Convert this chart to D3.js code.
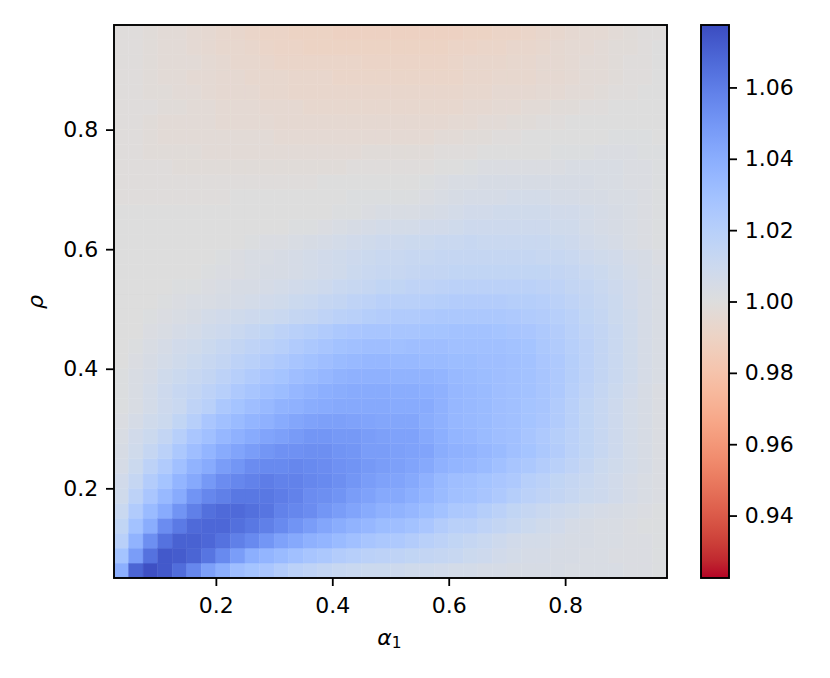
<!DOCTYPE html>
<meta charset="utf-8" />
<style>
    body { margin: 0; background: white; }
    text { font-family: "DejaVu Sans", sans-serif; fill: black; }
</style>
<script src="https://d3js.org/d3.v7.min.js"></script>
<div id="chart"></div>
<script>
    // bin centres, left to right and bottom to top
    const alphaBins = [0.0375, 0.0625, 0.0875, 0.1125, 0.1375, 0.1625, 0.1875, 0.2125, 0.2375, 0.2625, 0.2875, 0.3125, 0.3375, 0.3625, 0.3875, 0.4125, 0.4375, 0.4625, 0.4875, 0.5125, 0.5375, 0.5625, 0.5875, 0.6125, 0.6375, 0.6625, 0.6875, 0.7125, 0.7375, 0.7625, 0.7875, 0.8125, 0.8375, 0.8625, 0.8875, 0.9125, 0.9375, 0.9625];
    const rhoBins = [0.0625, 0.0875, 0.1125, 0.1375, 0.1625, 0.1875, 0.2125, 0.2375, 0.2625, 0.2875, 0.3125, 0.3375, 0.3625, 0.3875, 0.4125, 0.4375, 0.4625, 0.4875, 0.5125, 0.5375, 0.5625, 0.5875, 0.6125, 0.6375, 0.6625, 0.6875, 0.7125, 0.7375, 0.7625, 0.7875, 0.8125, 0.8375, 0.8625, 0.8875, 0.9125, 0.9375, 0.9625];

    // (value - 1) * 1000, one row per rho bin, lowest rho first
    const cellValues = [
        [39,69,76,73,66,56,46,39,31,28,26,22,18,16,14,12,11,10,10,9,8,8,7,6,6,5,5,4,4,4,4,3,3,3,3,2,2,1],
        [28,47,64,73,72,69,63,55,47,39,36,33,30,27,25,22,20,18,17,16,15,14,13,12,10,9,7,6,5,5,4,4,3,3,2,2,2,1],
        [19,37,53,64,70,70,68,64,59,55,50,45,42,38,36,33,30,27,25,24,22,19,17,15,13,11,9,7,6,6,5,4,4,3,3,2,2,1],
        [15,29,40,54,61,67,68,68,65,62,59,55,51,47,43,40,37,35,32,31,29,26,22,19,19,16,14,12,10,8,7,5,4,3,3,2,1,1],
        [11,23,33,41,51,59,65,67,67,65,63,58,56,54,50,47,44,41,38,37,35,32,29,25,24,21,18,15,13,11,9,8,6,5,4,3,2,1],
        [8,17,26,34,41,51,56,59,62,62,62,60,58,54,53,51,47,45,42,42,39,36,33,30,29,27,24,21,18,16,14,12,10,9,7,5,3,2],
        [7,13,22,28,36,42,49,54,56,58,60,58,58,56,55,53,50,47,45,44,42,38,34,31,30,28,26,24,20,18,15,13,11,9,7,5,3,2],
        [5,10,17,23,30,37,41,47,50,54,55,55,56,55,54,52,51,49,47,46,44,42,38,36,35,33,30,27,25,22,19,16,13,10,8,6,4,2],
        [4,8,13,18,25,31,36,41,44,47,50,52,52,53,53,51,50,47,47,46,45,44,40,38,37,35,33,30,28,25,22,18,15,12,9,6,4,2],
        [3,7,10,14,20,26,30,35,38,41,44,46,48,50,50,49,49,47,46,45,45,42,39,36,35,33,31,30,27,24,21,18,15,12,9,6,4,2],
        [2,5,8,10,15,20,26,30,33,36,38,41,43,45,46,46,45,44,43,43,43,40,38,35,34,33,31,30,28,26,23,19,15,12,9,6,4,2],
        [1,3,6,9,11,16,19,25,28,31,34,37,38,40,41,42,42,42,42,41,41,41,38,35,34,33,31,30,28,27,23,19,15,12,9,6,4,2],
        [1,3,6,9,12,14,17,20,24,27,30,32,35,37,39,40,41,41,41,40,40,39,38,35,34,33,31,30,29,27,24,20,16,13,10,7,4,2],
        [1,3,5,8,10,12,14,17,20,23,26,28,31,33,35,37,38,38,38,37,37,37,36,34,33,32,31,30,29,27,24,21,17,14,11,8,5,3],
        [0,2,4,6,8,10,12,14,17,19,22,24,27,29,31,33,34,35,35,34,34,33,33,32,32,31,31,30,29,26,24,21,17,14,11,8,5,3],
        [0,1,3,5,7,8,10,12,14,16,18,20,23,25,27,29,30,31,31,30,31,31,31,30,30,30,30,29,28,25,23,20,17,14,11,8,5,3],
        [0,0,2,3,5,6,8,9,11,13,15,17,19,21,23,25,26,27,27,27,27,28,28,29,29,29,28,27,26,24,22,19,16,14,11,8,5,3],
        [0,0,1,2,3,4,6,7,8,9,10,11,13,14,16,18,19,21,22,23,23,24,25,25,25,25,25,24,23,22,20,18,15,13,10,8,5,3],
        [0,0,0,1,2,3,3,4,5,6,7,8,10,11,13,14,16,17,19,19,19,20,21,22,22,22,22,21,21,20,18,16,14,12,10,7,5,3],
        [0,0,0,0,1,1,2,3,4,4,5,6,7,8,9,11,12,13,15,15,16,16,17,18,18,18,18,18,18,17,16,14,13,11,9,7,5,3],
        [0,0,0,0,0,0,1,2,2,3,4,4,5,6,7,8,10,11,12,12,13,14,14,15,15,15,15,15,15,15,14,13,11,10,8,6,4,3],
        [0,0,0,0,0,0,0,1,2,3,3,4,5,6,7,8,9,10,11,11,12,12,13,13,13,13,13,13,13,12,12,11,9,8,7,5,4,2],
        [0,0,0,0,0,0,0,0,0,1,2,2,3,4,5,6,7,8,9,9,10,10,11,11,12,11,11,11,11,11,10,9,7,6,5,3,2,1],
        [0,0,0,0,0,0,0,0,0,0,0,0,1,1,2,3,4,5,6,6,6,7,7,8,9,9,9,9,9,9,8,8,6,5,4,3,2,1],
        [0,0,0,0,0,0,0,0,0,0,0,0,0,0,0,1,1,2,3,3,3,4,5,6,7,7,8,8,8,8,7,7,6,5,4,3,2,1],
        [-1,-1,-1,-1,-1,-1,-1,-1,0,0,0,0,0,0,0,0,1,1,1,1,1,2,3,4,5,5,5,6,6,6,5,5,4,4,3,3,2,1],
        [-1,-1,-1,-1,-1,-1,-1,-1,-1,-1,-1,-1,-1,-1,0,0,0,0,0,0,0,1,2,3,3,4,4,4,4,4,4,4,4,3,3,2,2,1],
        [-1,-1,-1,-1,-2,-2,-2,-2,-2,-2,-2,-2,-2,-2,-2,-2,-1,-1,-1,-1,-1,-1,0,0,1,2,2,2,2,2,2,3,3,3,3,2,2,1],
        [-1,-1,-2,-2,-2,-2,-3,-3,-3,-3,-3,-3,-3,-3,-3,-3,-3,-2,-2,-2,-2,-2,-1,-1,-1,0,0,0,0,0,1,1,1,2,2,2,1,1],
        [-1,-1,-2,-3,-3,-3,-3,-3,-3,-3,-3,-4,-4,-4,-4,-4,-4,-4,-4,-4,-4,-4,-3,-3,-2,-2,-1,-1,0,0,0,0,0,0,1,1,1,0],
        [-1,-1,-2,-3,-3,-3,-3,-4,-4,-4,-4,-5,-5,-5,-5,-5,-5,-5,-5,-5,-5,-5,-5,-4,-4,-3,-3,-2,-2,-1,-1,0,0,0,0,0,0,0],
        [-1,-1,-1,-2,-2,-3,-3,-4,-4,-4,-5,-5,-5,-6,-6,-6,-6,-6,-6,-6,-6,-6,-6,-6,-5,-5,-4,-4,-3,-3,-2,-2,-1,-1,0,0,0,0],
        [-1,-1,-2,-2,-3,-3,-4,-5,-5,-5,-6,-6,-7,-7,-7,-7,-7,-7,-7,-7,-7,-7,-7,-7,-6,-6,-5,-5,-5,-4,-4,-3,-3,-2,-1,-1,0,0],
        [-1,-1,-2,-3,-3,-4,-4,-5,-5,-6,-6,-6,-7,-7,-7,-8,-8,-8,-8,-8,-8,-8,-8,-8,-7,-7,-6,-6,-6,-5,-5,-4,-3,-3,-2,-1,-1,0],
        [-1,-1,-2,-3,-3,-3,-4,-5,-6,-6,-7,-8,-8,-8,-8,-8,-8,-9,-9,-9,-9,-9,-9,-8,-7,-7,-7,-6,-6,-5,-5,-4,-3,-3,-2,-1,-1,0],
        [-1,-1,-2,-3,-3,-4,-5,-6,-6,-7,-8,-9,-9,-10,-10,-10,-10,-10,-10,-10,-10,-10,-10,-9,-9,-8,-8,-7,-7,-6,-5,-4,-4,-3,-2,-2,-1,0],
        [-1,-1,-2,-3,-3,-4,-5,-6,-7,-8,-9,-9,-10,-10,-10,-11,-11,-11,-11,-11,-11,-11,-11,-11,-10,-10,-9,-9,-8,-7,-6,-5,-4,-4,-3,-2,-1,-1]
    ];

    const alphaTicks = [0.2, 0.4, 0.6, 0.8];
    const rhoTicks = [0.2, 0.4, 0.6, 0.8];
    const colorbarTicks = [0.94, 0.96, 0.98, 1.00, 1.02, 1.04, 1.06];

    // coolwarm, listed from the high (blue) end of the reversed map down to the low (red) end
    const coolwarmReversed = ["#3b4cc0", "#445acc", "#4d68d7", "#5775e1", "#6282ea", "#6c8ef1", "#779af7", "#82a5fb", "#8db0fe", "#98b9ff", "#a3c2ff", "#aec9fd", "#b8d0f9", "#c2d5f4", "#ccd9ee", "#d5dbe6", "#dddddd", "#e5d8d1", "#ecd3c5", "#f1ccb9", "#f5c4ad", "#f7bba0", "#f7b194", "#f7a687", "#f49a7b", "#f18d6f", "#ec7f63", "#e57058", "#de604d", "#d55042", "#cb3e38", "#c0282f", "#b40426"];

    const vmin = 0.9225, vmax = 1.0775;

    const margin = { top: 25, left: 114 },
        width = 553,
        height = 553;
    const barLeft = 701, barWidth = 28;

    const color = d3.scaleLinear()
        .domain(d3.quantize(d3.interpolate(vmax, vmin), coolwarmReversed.length))
        .range(coolwarmReversed);

    const svg = d3.select("#chart")
        .append("svg")
        .attr("width", 830)
        .attr("height", 678);

    const plot = svg.append("g")
        .attr("transform", `translate(${margin.left}, ${margin.top})`);

    const xBand = d3.scaleBand().domain(alphaBins).range([0, width]);
    const yBand = d3.scaleBand().domain(rhoBins).range([height, 0]);
    const x = d3.scaleLinear().domain([0.025, 0.975]).range([0, width]);
    const y = d3.scaleLinear().domain([0.05, 0.975]).range([height, 0]);

    const cells = cellValues.flatMap((row, r) =>
        row.map((d, c) => ({ alpha: alphaBins[c], rho: rhoBins[r], value: 1 + d / 1000 })));

    plot.selectAll(".cell")
        .data(cells)
        .join("rect")
        .attr("class", "cell")
        .attr("x", d => xBand(d.alpha))
        .attr("y", d => yBand(d.rho))
        .attr("width", xBand.bandwidth())
        .attr("height", yBand.bandwidth())
        .attr("fill", d => color(d.value))
        .attr("stroke", d => color(d.value))
        .attr("stroke-width", 0.4);

    function styleAxis(g) {
        g.select(".domain").remove();
        g.selectAll(".tick line").attr("stroke", "black").attr("stroke-width", 1.8);
        g.selectAll(".tick text").style("font-size", "22px");
    }

    plot.append("g")
        .attr("transform", `translate(0, ${height})`)
        .call(d3.axisBottom(x).tickValues(alphaTicks).tickFormat(d3.format(".1f")).tickSize(8).tickPadding(11))
        .call(styleAxis);

    plot.append("g")
        .call(d3.axisLeft(y).tickValues(rhoTicks).tickFormat(d3.format(".1f")).tickSize(8).tickPadding(7.8))
        .call(styleAxis);

    plot.append("rect")
        .attr("width", width)
        .attr("height", height)
        .attr("fill", "none")
        .attr("stroke", "black")
        .attr("stroke-width", 1.9);

    // axis labels
    const xLabel = svg.append("text")
        .attr("x", 389.5)
        .attr("y", 645)
        .attr("text-anchor", "middle")
        .style("font-size", "22px");
    xLabel.append("tspan").style("font-style", "italic").text("α");
    xLabel.append("tspan").attr("dy", 3.3).style("font-size", "15.4px").text("1");

    svg.append("text")
        .attr("transform", "translate(43, 302) rotate(-90)")
        .attr("text-anchor", "middle")
        .style("font-size", "22px")
        .style("font-style", "italic")
        .text("ρ");

    // colorbar
    const grad = svg.append("defs").append("linearGradient")
        .attr("id", "coolwarm")
        .attr("x1", 0).attr("x2", 0).attr("y1", 0).attr("y2", 1);
    grad.selectAll("stop")
        .data(coolwarmReversed)
        .join("stop")
        .attr("offset", (d, i) => i / (coolwarmReversed.length - 1))
        .attr("stop-color", d => d);

    const bar = svg.append("g")
        .attr("transform", `translate(${barLeft}, ${margin.top})`);
    const barScale = d3.scaleLinear().domain([vmin, vmax]).range([height, 0]);

    bar.append("rect")
        .attr("width", barWidth)
        .attr("height", height)
        .attr("fill", "url(#coolwarm)");

    bar.append("g")
        .attr("transform", `translate(${barWidth}, 0)`)
        .call(d3.axisRight(barScale).tickValues(colorbarTicks).tickFormat(d3.format(".2f")).tickSize(8).tickPadding(7.8))
        .call(styleAxis);

    bar.append("rect")
        .attr("width", barWidth)
        .attr("height", height)
        .attr("fill", "none")
        .attr("stroke", "black")
        .attr("stroke-width", 1.9);
</script>
